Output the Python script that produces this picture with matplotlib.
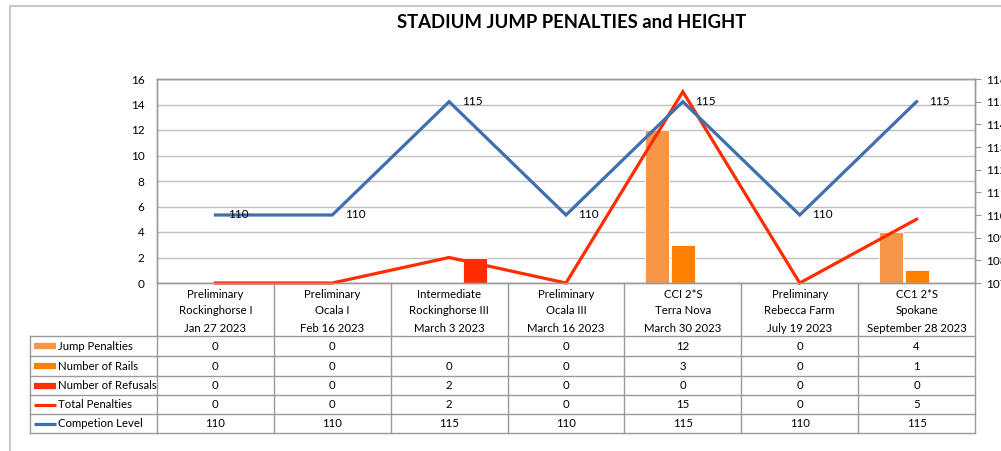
import matplotlib
matplotlib.use("Agg")
import matplotlib.pyplot as plt
import matplotlib.transforms as mtransforms
from matplotlib.lines import Line2D
import numpy as np

plt.rcParams['font.family'] = ['Lato', 'DejaVu Sans']

# data
levels = ["Preliminary", "Preliminary", "Intermediate", "Preliminary", "CCI 2*S", "Preliminary", "CC1 2*S"]
venues = ["Rockinghorse I", "Ocala I", "Rockinghorse III", "Ocala III", "Terra Nova", "Rebecca Farm", "Spokane"]
dates = ["Jan 27 2023", "Feb 16 2023", "March 3 2023", "March 16 2023", "March 30 2023", "July 19 2023",
         "September 28 2023"]
jump_penalties = [0, 0, np.nan, 0, 12, 0, 4]
num_rails = [0, 0, 0, 0, 3, 0, 1]
num_refusals = [0, 0, 2, 0, 0, 0, 0]
total_penalties = [0, 0, 2, 0, 15, 0, 5]
competition_level = [110, 110, 115, 110, 115, 110, 115]

c_jump = "#F79646"
c_rails = "#FF8000"
c_ref = "#FF2D00"
c_total = "#FF2D00"
c_level = "#3F6FAE"
grid_c = "#C0C0C0"
edge_c = "#9A9A9A"

W, H = 1001, 451
fig = plt.figure(figsize=(W / 100, H / 100), dpi=100)

def fy(px):
    return 1 - px / H

def fx(px):
    return px / W

# outer frame
fig.add_artist(Line2D([fx(10), fx(10)], [fy(6), 0], transform=fig.transFigure, color="#C8C8C8", lw=1.5))
fig.add_artist(Line2D([fx(10), 1], [fy(6), fy(6)], transform=fig.transFigure, color="#C8C8C8", lw=1.5))

ax = fig.add_axes([fx(157), fy(283), fx(975) - fx(157), fy(79) - fy(283)])
ax2 = ax.twinx()

x = np.arange(len(venues))
bw = 0.205
off = 0.222
ax.bar(x - off, jump_penalties, bw, color=c_jump, edgecolor="white", linewidth=0.6, zorder=2)
ax.bar(x, num_rails, bw, color=c_rails, edgecolor="white", linewidth=0.6, zorder=2)
ax.bar(x + off, num_refusals, bw, color=c_ref, edgecolor="white", linewidth=0.6, zorder=2)
ax.plot(x, total_penalties, color=c_total, lw=2.3, zorder=4, clip_on=False, solid_joinstyle="miter")

ax2.plot(x, competition_level, color=c_level, lw=2.3, zorder=3, solid_joinstyle="miter")
for xi, v in zip(x, competition_level):
    ax2.annotate(str(v), (xi, v), xytext=(9, 0), textcoords="offset points",
                 va="center", ha="left", fontsize=8.5, color="black")

ax.set_xlim(-0.5, len(venues) - 0.5)
ax.set_ylim(0, 16)
ax.set_yticks(range(0, 17, 2))
ax2.set_ylim(107, 116)
ax2.set_yticks(range(107, 117))
ax.set_xticks([])
ax.grid(axis="y", color=grid_c, lw=1, zorder=0)
ax.set_axisbelow(True)
ax.tick_params(axis="y", length=0, pad=9, labelsize=8.5)
ax2.tick_params(axis="y", length=4, color=edge_c, pad=4, labelsize=8.5)
for a in (ax, ax2):
    for s in a.spines.values():
        s.set_color(edge_c)
        s.set_linewidth(1)

fig.text(fx(572), fy(22), "STADIUM JUMP PENALTIES and HEIGHT", ha="center", va="center",
         fontsize=13.3, fontweight="bold")

# data table under the chart
bt = mtransforms.blended_transform_factory(ax.transData, fig.transFigure)
row_edges = [283, 336, 356, 376, 395, 414, 433]
tbl_lw = 1.0

def hline(x0, x1, ypx, trans):
    fig.add_artist(Line2D([x0, x1], [fy(ypx), fy(ypx)], transform=trans, color=edge_c, lw=tbl_lw, clip_on=False))

def vline(xv, y0, y1, trans):
    fig.add_artist(Line2D([xv, xv], [fy(y0), fy(y1)], transform=trans, color=edge_c, lw=tbl_lw, clip_on=False))

n = len(venues)
for ypx in row_edges[1:]:
    hline(-0.5, n - 0.5, ypx, bt)
    hline(fx(30), fx(157), ypx, fig.transFigure)
for i in range(n + 1):
    vline(i - 0.5, row_edges[0], row_edges[-1], bt)
vline(fx(30), row_edges[1], row_edges[-1], fig.transFigure)

for i in range(n):
    for txt, ypx in zip([levels[i], venues[i], dates[i]], [294, 311, 328]):
        fig.text(i, fy(ypx), txt, transform=bt, ha="center", va="center", fontsize=8.2)

series = [
    ("Jump Penalties", jump_penalties, c_jump, 4.5),
    ("Number of Rails", num_rails, c_rails, 4.5),
    ("Number of Refusals", num_refusals, c_ref, 4.5),
    ("Total Penalties", total_penalties, c_total, 2.3),
    ("Competion Level", competition_level, c_level, 2.3),
]
for r, (name, vals, col, lw) in enumerate(series):
    yc = (row_edges[r + 1] + row_edges[r + 2]) / 2
    fig.add_artist(Line2D([fx(34), fx(56)], [fy(yc), fy(yc)], transform=fig.transFigure, color=col, lw=lw,
                          solid_capstyle="butt"))
    fig.text(fx(58), fy(yc), name, ha="left", va="center", fontsize=8.2)
    for i, v in enumerate(vals):
        s = "" if np.isnan(v) else str(int(v))
        fig.text(i, fy(yc), s, transform=bt, ha="center", va="center", fontsize=8.2)

fig.savefig("out.png", dpi=100)
